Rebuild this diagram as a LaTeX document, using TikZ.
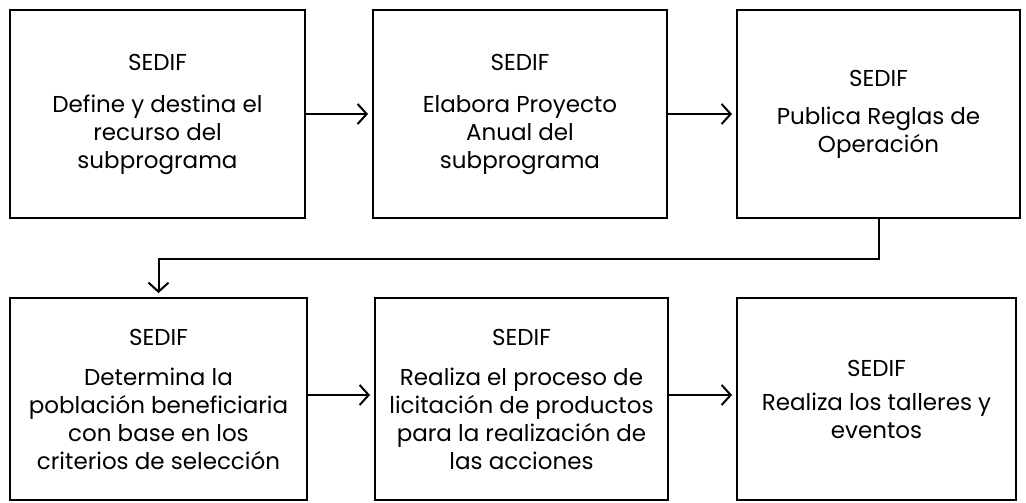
\documentclass[tikz,border=0pt]{standalone}
\usepackage{fontspec}
\setmainfont{Poppins}
\usetikzlibrary{arrows.meta}
\begin{document}
\begin{tikzpicture}[x=1pt,y=-1pt,
  box/.style={draw=black, line width=2pt, fill=white, inner sep=0pt, align=center,
    font=\fontsize{23}{28}\selectfont, text=black},
  conn/.style={line width=2pt, shorten >=4pt,
    -{Straight Barb[length=9pt,width=20pt,line width=2pt]}}]
\useasboundingbox (0,0) rectangle (1026,503);
\fill[white] (0,0) rectangle (1026,503);
\node[box, minimum width=295pt, minimum height=208pt] (b1) at (157.5,114)
  {SEDIF\\[14pt]Define y destina el\\recurso del\\subprograma};
\node[box, minimum width=294pt, minimum height=208pt] (b2) at (520,114)
  {SEDIF\\[14pt]Elabora Proyecto\\Anual del\\subprograma};
\node[box, minimum width=283pt, minimum height=208pt] (b3) at (878.5,114)
  {SEDIF\\[10pt]Publica Reglas de\\Operación};
\node[box, minimum width=297pt, minimum height=202pt] (b4) at (158.5,399)
  {SEDIF\\[12pt]Determina la\\población beneficiaria\\con base en los\\criterios de selección};
\node[box, minimum width=293pt, minimum height=202pt] (b5) at (521.5,399)
  {SEDIF\\[12pt]Realiza el proceso de\\licitación de productos\\para la realización de\\las acciones};
\node[box, minimum width=279pt, minimum height=202pt] (b6) at (876.5,399)
  {SEDIF\\[6pt]Realiza los talleres y\\eventos};
\draw[conn] (b1.east) -- (b2.west);
\draw[conn] (b2.east) -- (b3.west);
\draw[conn] (b3.south) -- ++(0,40) -| (b4.north);
\draw[conn] ([yshift=4pt]b4.east) -- ([yshift=4pt]b5.west);
\draw[conn] ([yshift=4pt]b5.east) -- ([yshift=4pt]b6.west);
\end{tikzpicture}
\end{document}
